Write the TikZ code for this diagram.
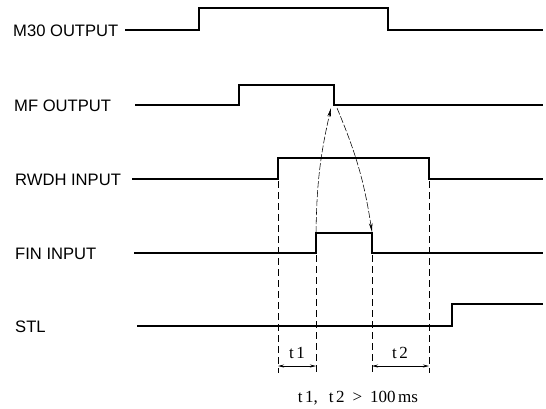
\documentclass[tikz,border=0pt]{standalone}
\usepackage{fontspec}
\setmainfont{Liberation Serif}
\newfontfamily\labfont{Liberation Sans}
\usetikzlibrary{arrows.meta}
\begin{document}
\begin{tikzpicture}[x=1pt,y=-1pt,
  sig/.style={line width=1.8pt, line join=miter},
  guide/.style={line width=0.55pt, dash pattern=on 7pt off 4pt},
  causal/.style={line width=0.55pt, dash pattern=on 7pt off 2pt, -{Stealth[length=9pt,width=3.5pt]}},
  dim/.style={line width=0.7pt, {Stealth[length=6pt,width=3pt]}-{Stealth[length=6pt,width=3pt]}},
  lab/.style={anchor=base west, inner sep=0pt, font=\labfont\fontsize{16.6}{18}\selectfont},
  tlab/.style={anchor=base, inner sep=0pt, font=\fontsize{17}{19}\selectfont}]
\useasboundingbox (0,0) rectangle (546,408);

% labels
\node[lab] (m30) at (13,36) {M30 OUTPUT};
\node[lab] (mf) at (14,111) {MF OUTPUT};
\node[lab] (rwdh) at (15,185) {RWDH INPUT};
\node[lab] (fin) at (15,259) {FIN INPUT};
\node[lab] (stl) at (15,332) {STL};

% waveforms
\draw[sig] (125,30) -- (199,30) -- (199,8) -- (388,8) -- (388,30) -- (543,30);
\draw[sig] (135,105) -- (239,105) -- (239,85) -- (334,85) -- (334,105) -- (543,105);
\draw[sig] (132,179) -- (278,179) -- (278,158) -- (429,158) -- (429,179) -- (543,179);
\draw[sig] (134,253) -- (316,253) -- (316,233) -- (372,233) -- (372,253) -- (543,253);
\draw[sig] (137,326) -- (452,326) -- (452,304) -- (543,304);

% key points
\coordinate (finrise) at (316,233);
\coordinate (mffallA) at (331,108);
\coordinate (mffallB) at (337,108);
\coordinate (finfall) at (372,232);
\coordinate (g1t) at (278,181);
\coordinate (g2t) at (316,255);
\coordinate (g3t) at (372,255);
\coordinate (g4t) at (429,181);
\coordinate (g1b) at (278,373);
\coordinate (g2b) at (316,373);
\coordinate (g3b) at (372,373);
\coordinate (g4b) at (429,373);
\coordinate (d1a) at (278,366);
\coordinate (d1b) at (316,366);
\coordinate (d2a) at (372,366);
\coordinate (d2b) at (429,366);

% causal arrows
\draw[causal] (finrise) to[bend left=6] (mffallA);
\draw[causal] (mffallB) to[bend left=7] (finfall);

% guides
\draw[guide] (g1t) -- (g1b);
\draw[guide] (g2t) -- (g2b);
\draw[guide] (g3t) -- (g3b);
\draw[guide] (g4t) -- (g4b);

% dimensions
\draw[dim] (d1a) -- (d1b);
\draw[dim] (d2a) -- (d2b);
\node[tlab] (t1) at (297,358) {t\kern2.5pt 1};
\node[tlab] (t2) at (400,358) {t\kern2.5pt 2};
\node[tlab] (cond) at (358,402) {t\kern2.5pt 1,\hspace{11pt}t\kern2.5pt 2\hspace{8pt}>\hspace{8pt}100\kern2.5pt ms};
\end{tikzpicture}
\end{document}
